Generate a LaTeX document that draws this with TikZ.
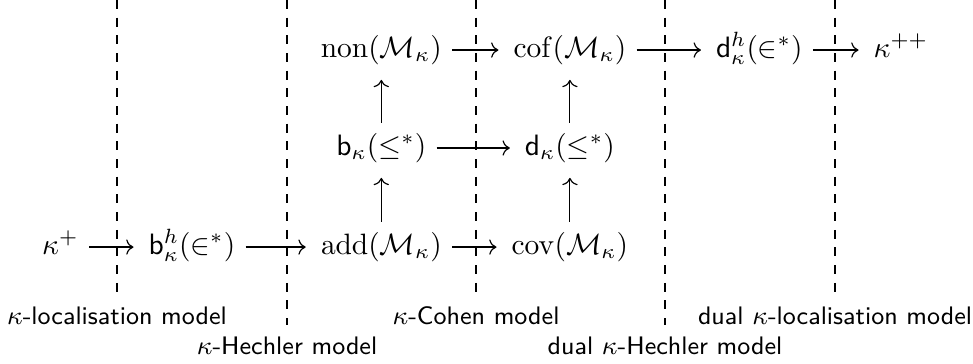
\documentclass[tikz,border=0pt]{standalone}
\usepackage{amsmath,amssymb}
\usetikzlibrary{arrows.meta,positioning}

\begin{document}
\begin{tikzpicture}[
  card/.style={inner sep=3.33pt,text height=7.5pt,text depth=2.5pt},
  arr/.style={-{To},line width=0.4pt,shorten >=1.6pt},
  sep/.style={dashed,line width=0.4pt},
  model/.style={font=\fontsize{8.6}{10}\selectfont\sffamily,inner sep=0pt}
]
  \useasboundingbox (0,0) rectangle (11.61,4.332);

  % Separators between the models
  \foreach \x/\y in {1.396/0.811, 3.425/0.453, 5.68/0.811, 7.935/0.453, 9.964/0.811} {
    \draw[sep] (\x,4.332) -- (\x,\y);
  }

  % Bottom row
  \node[card] (kp)  at (0.72,1.384) {$\kappa^+$};
  \node[card] (bh)  at (2.29,1.384) {$\mathsf{b}^h_\kappa(\in^*)$};
  \node[card] (add) at (4.55,1.384) {$\operatorname{add}(\mathcal{M}_\kappa)$};
  \node[card] (cov) at (6.80,1.384) {$\operatorname{cov}(\mathcal{M}_\kappa)$};

  % Middle row
  \node[card] (bk) at (4.55,2.566) {$\mathsf{b}_\kappa(\leq^*)$};
  \node[card] (dk) at (6.80,2.566) {$\mathsf{d}_\kappa(\leq^*)$};

  % Top row
  \node[card] (non) at (4.55,3.735) {$\operatorname{non}(\mathcal{M}_\kappa)$};
  \node[card] (cof) at (6.80,3.735) {$\operatorname{cof}(\mathcal{M}_\kappa)$};
  \node[card] (dh)  at (9.06,3.735) {$\mathsf{d}^h_\kappa(\in^*)$};
  \node[card] (kpp) at (10.75,3.735) {$\kappa^{++}$};

  % Arrows
  \foreach \a/\b in {kp/bh, bh/add, add/cov, bk/dk, non/cof, cof/dh, dh/kpp,
                     add/bk, bk/non, cov/dk, dk/cof} {
    \draw[arr] (\a) -- (\b);
  }

  % Model names
  \node[model] (loc)   at (1.396,0.561) {$\kappa$-localisation model};
  \node[model] (hech)  at (3.425,0.203) {$\kappa$-Hechler model};
  \node[model] (cohen) at (5.68,0.561)  {$\kappa$-Cohen model};
  \node[model] (dhech) at (7.935,0.203) {dual $\kappa$-Hechler model};
  \node[model] (dloc)  at (9.964,0.561) {dual $\kappa$-localisation model};
\end{tikzpicture}
\end{document}
